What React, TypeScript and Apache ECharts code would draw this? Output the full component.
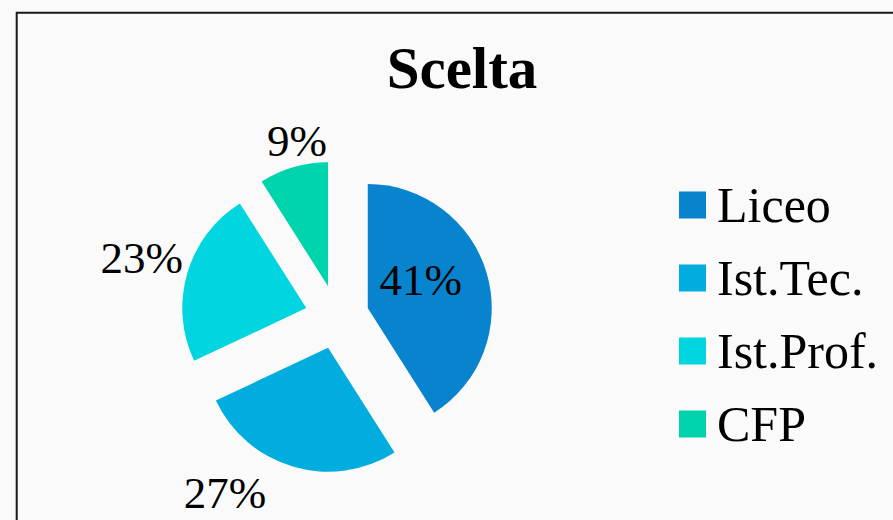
import React, { useEffect, useRef } from "react";
import * as echarts from "echarts";

const categories = ["Liceo", "Ist.Tec.", "Ist.Prof.", "CFP"];
const values = [41, 27, 23, 9];
const colors = ["#0883CE", "#00ADDE", "#00D5E0", "#00D4AC"];
const titleText = "Scelta";

// label placement tweaks (style only): distance relative to radius, angular shift in degrees
const labelDist = [-64, 54, 48, 25];
const labelShift = [-11.6, 19.2, 0.7, 4.2];

const CX = 337;
const CY = 317;
const R = 124;
const EXPLODE = 32;
const FONT = "'Liberation Serif', 'DejaVu Serif', serif";

export default function App() {
  const ref = useRef<HTMLDivElement>(null);
  useEffect(() => {
    if (!ref.current) return;
    const chart = echarts.init(ref.current, null, { renderer: "svg" });
    const total = values.reduce((a, b) => a + b, 0);
    const mids: number[] = [];
    let acc = 0;
    values.forEach((v) => {
      mids.push(((acc + v / 2) / total) * 360);
      acc += v;
    });
    const labelTexts = values.map((v, i) => {
      const m = (mids[i] * Math.PI) / 180;
      const a = ((mids[i] + labelShift[i]) * Math.PI) / 180;
      const ax = CX + EXPLODE * Math.sin(m);
      const ay = CY - EXPLODE * Math.cos(m);
      const d = R + labelDist[i];
      return {
        type: "text",
        silent: true,
        z: 10,
        x: ax + d * Math.sin(a),
        y: ay - d * Math.cos(a),
        style: {
          text: Math.round((v / total) * 100) + "%",
          fontFamily: FONT,
          fontSize: 45,
          fill: "#000",
          align: "center",
          verticalAlign: "middle",
        },
      };
    });
    chart.setOption({
      animation: false,
      backgroundColor: "#fafafa",
      title: {
        text: titleText,
        left: 457,
        top: 33,
        textAlign: "center",
        textStyle: { fontFamily: FONT, fontWeight: "bold", fontSize: 59, color: "#000", lineHeight: 59 },
      },
      legend: {
        orient: "vertical",
        left: 679,
        top: 180,
        padding: 0,
        itemWidth: 27,
        itemHeight: 27,
        itemGap: 23,
        icon: "rect",
        selectedMode: false,
        textStyle: { fontFamily: FONT, fontSize: 50, color: "#000", padding: [0, 0, 0, 6] },
        data: categories,
      },
      graphic: [
        {
          type: "rect",
          shape: { x: 16.7, y: 12.7, width: 1000, height: 1000 },
          style: { fill: "none", stroke: "#1a1a1a", lineWidth: 2 },
          silent: true,
        },
        ...labelTexts,
      ],
      series: [
        {
          type: "pie",
          center: [CX, CY],
          radius: [0, R],
          startAngle: 90,
          clockwise: true,
          selectedMode: "multiple",
          selectedOffset: EXPLODE,
          emphasis: { disabled: true },
          labelLine: { show: false },
          label: { show: false },
          data: categories.map((name, i) => ({
            name,
            value: values[i],
            selected: true,
            itemStyle: { color: colors[i] },
          })),
        },
      ],
    });
    return () => chart.dispose();
  }, []);
  return (
    <div
      ref={ref}
      style={{ position: "absolute", left: 0, top: 0, width: 893, height: 520 }}
    />
  );
}
